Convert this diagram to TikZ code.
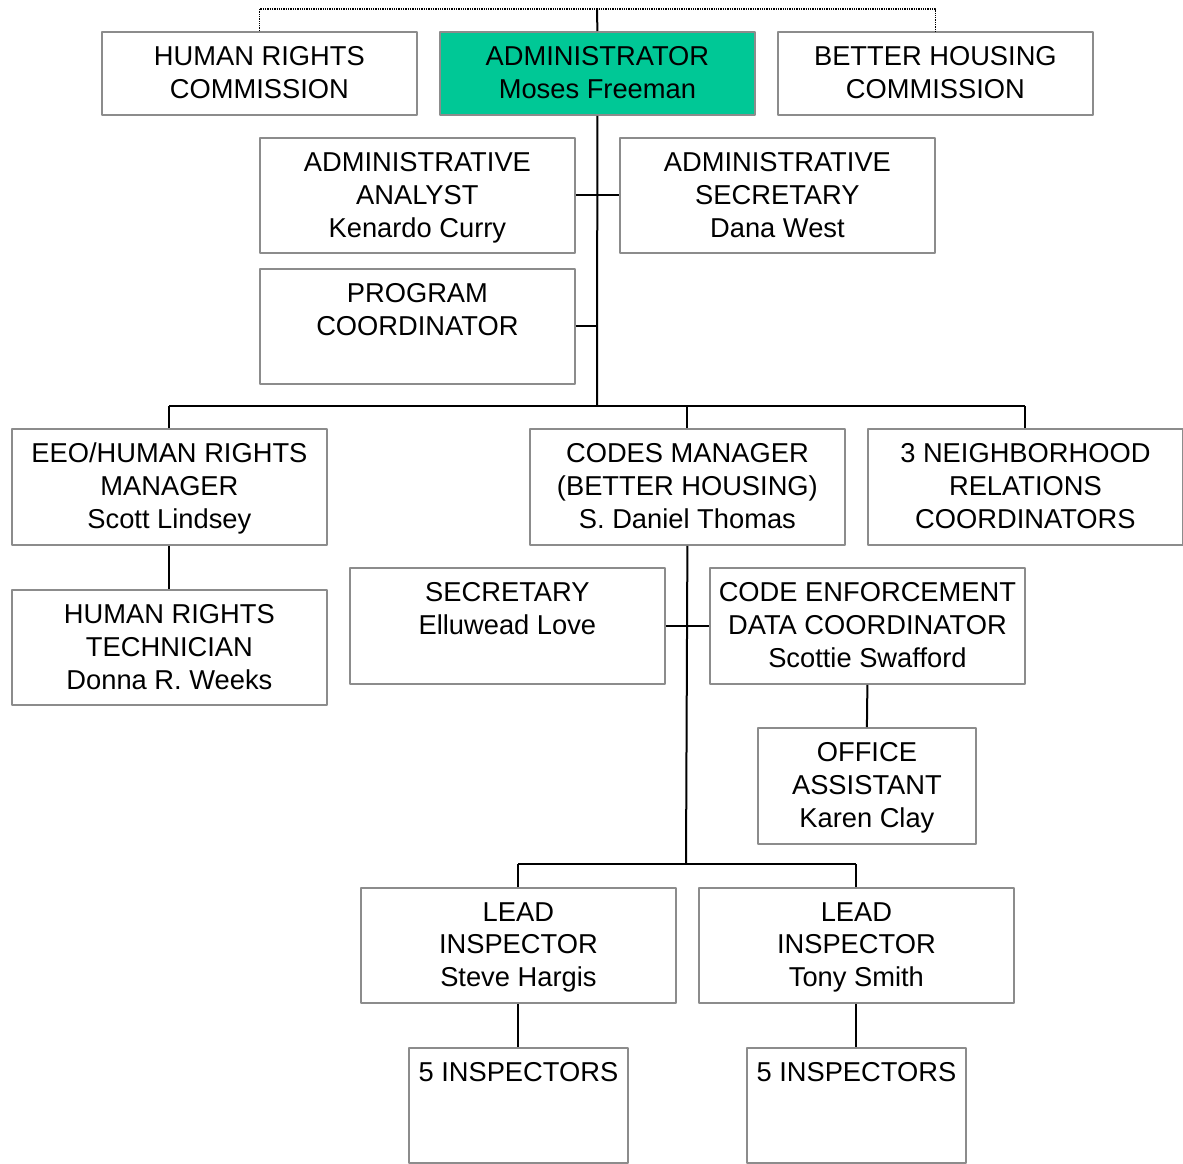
\documentclass[tikz,border=0pt]{standalone}
\usepackage{fontspec}
\setmainfont{Liberation Sans}
\definecolor{teal}{RGB}{0,200,150}
\tikzset{
  box/.style={draw=black!45, line width=1.8pt, anchor=north west, inner sep=0pt},
  txt/.style={align=center, anchor=north, inner sep=0pt, font=\fontsize{27.3}{33}\selectfont},
  wire/.style={line width=2pt, black}
}
% unit: name, left, top, width, height, text
\newcommand\unit[6]{%
  \node[box, minimum width=#4, minimum height=#5] (#1) at (#2,#3) {};
  \node[txt] (#1-t) at ([yshift=-15pt]#1.north) {#6};}
\begin{document}
\begin{tikzpicture}[x=1pt, y=-1pt, line join=round]
  \useasboundingbox (0,0) rectangle (1183,1163);
  % bus levels
  \coordinate (top) at (597,9);
  \coordinate (bus1) at (597,406);
  \coordinate (bus2) at (686,864);
  % top row
  \unit{hrc}{101}{31}{315}{83}{HUMAN RIGHTS\\COMMISSION}
  \node[box, fill=teal, minimum width=315, minimum height=83] (adm) at (439,31) {};
  \node[txt] (adm-t) at ([yshift=-15pt]adm.north) {ADMINISTRATOR\\Moses Freeman};
  \unit{bhc}{777}{31}{315}{83}{BETTER HOUSING\\COMMISSION}
  % staff
  \unit{ana}{259}{137}{315}{115}{ADMINISTRATIVE\\ANALYST\\Kenardo Curry}
  \unit{asec}{619}{137}{315}{115}{ADMINISTRATIVE\\SECRETARY\\Dana West}
  \unit{prg}{259}{268}{315}{115}{PROGRAM\\COORDINATOR}
  % divisions
  \unit{eeo}{11}{428}{315}{116}{EEO/HUMAN RIGHTS\\MANAGER\\Scott Lindsey}
  \unit{cod}{529}{428}{315}{116}{CODES MANAGER\\(BETTER HOUSING)\\S. Daniel Thomas}
  \unit{nrc}{867}{428}{315}{116}{3 NEIGHBORHOOD\\RELATIONS\\COORDINATORS}
  \unit{hrt}{11}{589}{315}{115}{HUMAN RIGHTS\\TECHNICIAN\\Donna R. Weeks}
  \unit{csec}{349}{567}{315}{116}{SECRETARY\\Elluwead Love}
  \unit{ced}{709}{567}{315}{116}{CODE ENFORCEMENT\\DATA COORDINATOR\\Scottie Swafford}
  \unit{ofa}{757}{727}{218}{116}{OFFICE\\ASSISTANT\\Karen Clay}
  % inspection
  \unit{lds}{360}{887}{315}{115}{LEAD\\INSPECTOR\\Steve Hargis}
  \unit{ldt}{698}{887}{315}{115}{LEAD\\INSPECTOR\\Tony Smith}
  \unit{ins1}{408}{1047}{219}{115}{5 INSPECTORS}
  \unit{ins2}{746}{1047}{219}{115}{5 INSPECTORS}
  % connectors
  \draw[densely dotted, line width=1.3pt] (hrc.north) -- (hrc.north |- top) -- (bhc.north |- top) -- (bhc.north);
  \draw[wire] (top) -- (adm.north);
  \draw[wire] (adm.south) -- (bus1);
  \draw[wire] (ana.east) -- (asec.west);
  \draw[wire] (prg.east) -- (prg.east -| adm.south);
  \draw[wire] (eeo.north |- bus1) -- (nrc.north |- bus1);
  \foreach \n in {eeo,cod,nrc}
    \draw[wire] (\n.north) -- (\n.north |- bus1);
  \draw[wire] (eeo.south) -- (hrt.north);
  \draw[wire] (cod.south) -- (bus2);
  \draw[wire] (csec.east) -- (ced.west);
  \draw[wire] (ced.south) -- (ofa.north);
  \draw[wire] (lds.north |- bus2) -- (ldt.north |- bus2);
  \foreach \n in {lds,ldt}
    \draw[wire] (\n.north) -- (\n.north |- bus2);
  \draw[wire] (lds.south) -- (ins1.north);
  \draw[wire] (ldt.south) -- (ins2.north);
\end{tikzpicture}
\end{document}
